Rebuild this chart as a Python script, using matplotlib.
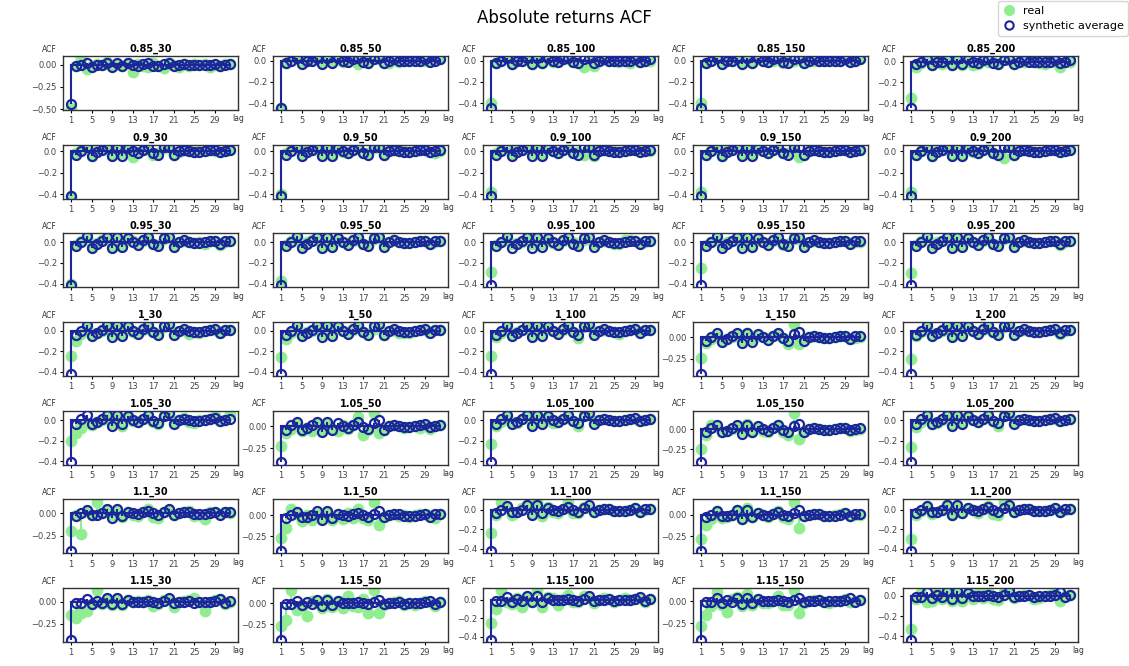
import matplotlib
matplotlib.use("Agg")
import matplotlib.pyplot as plt
from matplotlib.lines import Line2D

# lag axis and grid labels
lags = list(range(1, 33))
xticks = list(range(1, 33, 4))
row_keys = ["0.85", "0.9", "0.95", "1", "1.05", "1.1", "1.15"]
col_keys = ["30", "50", "100", "150", "200"]

# synthetic average ACF, one curve per row
syn_085 = [-0.44, -0.02, 0.00, 0.02, -0.03, 0.00, 0.00, 0.02, -0.03, 0.02, -0.02, 0.02, 0.00, -0.01, 0.01, 0.02, -0.01, -0.02, 0.01, 0.02, -0.02, 0.00, 0.01, 0.00, 0.00, 0.00, 0.00, 0.00, 0.01, -0.01, 0.00, 0.01]
syn_09 = [-0.42, -0.03, 0.00, 0.04, -0.04, -0.01, 0.01, 0.04, -0.04, 0.04, -0.04, 0.03, 0.00, -0.02, 0.01, 0.04, -0.02, -0.03, 0.04, 0.04, -0.03, 0.00, 0.01, 0.00, -0.01, -0.01, 0.00, 0.01, 0.01, -0.01, 0.00, 0.01]
syn_095 = [-0.41, -0.04, 0.00, 0.06, -0.06, -0.02, 0.01, 0.05, -0.06, 0.05, -0.05, 0.04, 0.00, -0.03, 0.02, 0.05, -0.02, -0.04, 0.04, 0.05, -0.05, 0.00, 0.02, 0.00, -0.01, -0.01, 0.00, 0.01, 0.01, -0.02, 0.01, 0.01]
syn_1 = [-0.42, -0.04, 0.00, 0.05, -0.05, -0.02, 0.01, 0.05, -0.06, 0.05, -0.05, 0.04, 0.00, -0.03, 0.02, 0.05, -0.01, -0.04, 0.04, 0.06, -0.04, 0.00, 0.02, 0.00, -0.01, -0.01, 0.00, 0.01, 0.02, -0.02, 0.01, 0.01]
syn_105 = [-0.41, -0.04, 0.01, 0.05, -0.04, -0.02, 0.01, 0.05, -0.06, 0.05, -0.04, 0.04, 0.00, -0.02, 0.01, 0.05, -0.01, -0.03, 0.04, 0.07, -0.04, 0.00, 0.01, 0.00, -0.01, -0.01, 0.00, 0.01, 0.02, -0.01, 0.00, 0.01]
syn_11 = [-0.42, -0.03, 0.00, 0.04, -0.02, -0.02, 0.00, 0.05, -0.05, 0.05, -0.03, 0.02, 0.00, -0.01, 0.01, 0.03, 0.00, -0.02, 0.02, 0.05, -0.02, 0.00, 0.01, 0.01, -0.01, -0.01, -0.01, 0.00, 0.02, -0.02, 0.01, 0.01]
syn_115 = [-0.43, -0.01, -0.01, 0.03, -0.02, 0.01, -0.01, 0.04, -0.03, 0.04, -0.02, 0.02, 0.00, 0.00, 0.00, 0.01, 0.00, -0.01, 0.01, 0.04, -0.01, 0.00, 0.00, 0.01, -0.01, 0.00, 0.00, 0.00, 0.01, 0.03, -0.01, 0.01]

# real ACF, one curve per panel
real_085_30 = [-0.48, -0.02, 0.07, -0.05, -0.02, 0.01, 0.00, 0.03, -0.02, 0.01, -0.01, 0.02, -0.08, 0.01, -0.01, -0.03, 0.02, -0.02, -0.04, 0.02, 0.00, -0.03, 0.01, -0.01, 0.01, 0.00, 0.01, -0.03, 0.00, -0.01, 0.01, 0.01]
real_085_50 = [-0.44, -0.02, 0.02, 0.01, -0.02, 0.00, 0.01, 0.02, -0.02, 0.01, -0.01, 0.01, -0.01, 0.00, 0.01, -0.03, 0.01, -0.02, 0.02, 0.01, -0.02, -0.02, 0.01, -0.01, 0.00, 0.00, 0.01, 0.00, 0.00, 0.00, 0.01, 0.01]
real_085_100 = [-0.40, -0.02, 0.01, 0.02, -0.03, 0.00, 0.00, 0.01, -0.03, 0.01, -0.02, 0.02, -0.01, -0.01, 0.01, 0.01, -0.01, -0.02, -0.06, -0.01, -0.05, 0.00, 0.01, 0.00, 0.00, -0.01, 0.00, -0.02, 0.01, -0.01, 0.00, 0.00]
real_085_150 = [-0.40, -0.02, 0.01, 0.01, -0.02, 0.01, 0.00, 0.02, -0.02, 0.01, -0.02, 0.01, 0.00, -0.01, 0.00, 0.01, -0.02, -0.01, 0.00, 0.01, -0.02, 0.00, 0.00, 0.00, 0.00, 0.00, 0.00, 0.00, 0.01, 0.00, 0.00, 0.01]
real_085_200 = [-0.35, -0.05, -0.01, 0.02, -0.03, 0.03, -0.02, 0.01, -0.03, 0.00, -0.03, 0.01, -0.03, -0.02, 0.01, 0.00, 0.00, -0.02, 0.02, 0.01, -0.02, 0.00, 0.00, 0.01, 0.00, -0.01, -0.02, 0.01, 0.00, -0.05, 0.00, 0.00]

real_09_30 = [-0.42, -0.02, 0.01, 0.03, -0.04, 0.00, 0.02, 0.03, -0.03, 0.02, -0.02, 0.02, -0.05, -0.01, 0.01, 0.02, -0.03, -0.02, 0.03, 0.03, -0.03, -0.01, 0.01, 0.00, -0.01, 0.00, 0.00, 0.01, 0.00, -0.01, 0.00, 0.01]
real_09_50 = [-0.40, -0.02, 0.01, 0.03, -0.03, 0.01, 0.01, 0.03, -0.03, 0.02, -0.03, 0.02, -0.01, -0.02, 0.01, 0.03, -0.02, -0.02, 0.03, 0.03, -0.03, 0.00, 0.01, 0.00, 0.00, -0.01, 0.00, 0.01, 0.01, -0.01, -0.02, 0.00]
real_09_100 = [-0.38, -0.02, 0.01, 0.03, -0.03, 0.01, 0.01, 0.03, -0.02, 0.03, -0.03, 0.02, 0.00, -0.02, 0.01, 0.02, -0.02, -0.01, -0.03, 0.04, -0.04, 0.01, 0.01, 0.00, 0.00, -0.01, 0.00, 0.01, 0.01, 0.00, 0.00, 0.00]
real_09_150 = [-0.38, -0.03, 0.01, 0.02, -0.04, 0.00, 0.01, 0.03, -0.03, 0.03, -0.03, 0.02, 0.00, -0.02, 0.01, 0.03, -0.02, -0.02, 0.02, -0.05, -0.03, 0.00, 0.01, 0.00, -0.01, -0.01, 0.00, 0.01, 0.01, -0.01, 0.00, 0.01]
real_09_200 = [-0.38, -0.03, 0.00, 0.03, -0.04, 0.00, 0.01, 0.03, -0.03, 0.03, -0.03, 0.02, -0.01, -0.02, 0.01, 0.03, -0.02, -0.03, -0.06, 0.04, -0.03, 0.00, 0.01, 0.00, -0.01, -0.01, 0.00, 0.01, 0.01, -0.01, 0.00, 0.01]

real_095_30 = [-0.40, -0.03, 0.01, 0.04, -0.04, -0.01, 0.02, 0.04, -0.05, 0.04, -0.04, 0.03, 0.01, -0.02, 0.01, 0.04, -0.02, -0.03, 0.03, 0.04, -0.04, 0.00, 0.01, 0.00, -0.01, 0.00, -0.02, 0.01, 0.01, -0.03, 0.00, 0.01]
real_095_50 = [-0.37, -0.03, 0.01, 0.04, -0.04, 0.00, 0.02, 0.04, -0.04, 0.04, -0.04, 0.03, 0.00, -0.02, 0.01, 0.04, -0.02, -0.03, 0.03, 0.04, -0.03, 0.00, 0.02, 0.00, -0.01, -0.01, 0.00, 0.01, 0.01, -0.02, 0.00, 0.01]
real_095_100 = [-0.29, -0.03, 0.00, 0.03, -0.02, -0.01, 0.00, 0.03, -0.02, 0.03, -0.02, 0.02, -0.01, -0.02, 0.01, 0.03, 0.00, -0.02, 0.02, 0.03, -0.02, 0.00, 0.01, 0.00, -0.02, -0.02, 0.02, 0.02, 0.01, -0.01, 0.00, 0.01]
real_095_150 = [-0.25, -0.03, 0.00, 0.03, -0.03, 0.00, 0.01, 0.03, -0.03, 0.03, -0.03, 0.02, 0.00, -0.02, 0.01, 0.03, -0.03, -0.02, 0.03, 0.03, -0.04, 0.00, 0.01, 0.00, -0.01, -0.01, 0.00, 0.01, 0.01, -0.01, 0.00, 0.00]
real_095_200 = [-0.30, -0.03, 0.01, 0.04, -0.03, 0.00, 0.01, 0.04, -0.04, 0.04, -0.04, 0.03, 0.00, -0.02, 0.01, 0.04, -0.02, -0.03, 0.03, 0.04, -0.04, 0.00, 0.01, 0.00, -0.01, -0.01, 0.00, 0.01, 0.01, -0.03, 0.00, 0.01]

real_1_30 = [-0.25, -0.10, -0.03, 0.03, -0.04, -0.02, 0.00, 0.03, -0.03, 0.05, -0.03, 0.03, -0.01, -0.02, 0.01, 0.03, -0.01, -0.03, 0.03, 0.05, -0.03, 0.00, 0.01, -0.03, -0.01, -0.02, 0.00, 0.01, 0.01, -0.02, 0.01, 0.01]
real_1_50 = [-0.26, -0.08, -0.02, 0.03, -0.04, -0.01, 0.00, 0.03, -0.03, 0.04, -0.03, 0.03, 0.00, -0.02, 0.01, 0.03, -0.01, -0.03, 0.02, 0.04, -0.04, 0.00, 0.01, -0.02, -0.02, -0.02, 0.00, 0.01, 0.01, -0.01, 0.01, 0.01]
real_1_100 = [-0.25, -0.06, -0.02, 0.03, -0.03, -0.01, 0.01, 0.03, -0.04, 0.04, -0.03, 0.03, 0.00, -0.02, 0.01, 0.04, -0.01, -0.07, 0.03, 0.04, -0.03, 0.00, 0.01, 0.00, -0.01, -0.03, 0.00, 0.01, 0.02, -0.01, 0.01, 0.01]
real_1_150 = [-0.24, -0.06, -0.02, 0.02, -0.04, -0.02, 0.00, 0.03, -0.03, 0.05, -0.02, 0.02, 0.00, -0.02, 0.01, 0.03, -0.01, -0.08, 0.15, -0.08, -0.02, 0.00, 0.01, 0.00, -0.01, -0.01, 0.00, 0.01, 0.01, -0.02, -0.01, 0.00]
real_1_200 = [-0.28, -0.05, -0.01, 0.03, -0.04, -0.02, 0.00, 0.04, -0.04, 0.04, -0.03, 0.03, 0.00, -0.02, 0.01, 0.04, -0.01, -0.03, 0.03, 0.05, -0.03, 0.00, 0.01, 0.00, -0.01, -0.01, 0.00, 0.01, 0.01, -0.03, 0.00, 0.01]

real_105_30 = [-0.20, -0.12, -0.08, -0.03, -0.05, -0.02, 0.00, 0.03, -0.03, 0.04, -0.06, 0.03, -0.01, -0.02, 0.01, 0.03, -0.02, -0.04, 0.04, 0.06, -0.03, 0.00, 0.02, -0.02, -0.03, 0.00, 0.00, 0.01, 0.04, -0.01, 0.00, 0.06]
real_105_50 = [-0.22, -0.08, -0.03, 0.03, -0.05, -0.02, -0.05, 0.03, -0.04, 0.04, -0.03, -0.05, 0.01, -0.03, 0.01, 0.10, -0.10, -0.04, 0.15, -0.08, -0.04, 0.00, 0.01, 0.00, -0.02, -0.01, 0.00, -0.02, 0.01, -0.03, 0.00, 0.01]
real_105_100 = [-0.23, -0.06, -0.02, 0.03, -0.02, -0.03, 0.01, 0.03, -0.04, 0.04, -0.03, 0.03, -0.03, -0.02, 0.01, 0.03, -0.01, -0.06, 0.04, 0.05, -0.03, 0.00, 0.01, 0.00, -0.01, -0.01, 0.00, 0.01, 0.01, -0.01, 0.00, 0.01]
real_105_150 = [-0.25, -0.07, 0.05, 0.03, -0.04, -0.02, 0.00, 0.03, -0.02, 0.06, -0.03, 0.02, -0.02, -0.04, 0.01, 0.05, -0.03, -0.07, 0.20, -0.12, -0.03, 0.00, 0.01, 0.00, -0.01, -0.01, 0.00, 0.01, 0.01, -0.02, -0.01, 0.00]
real_105_200 = [-0.26, -0.07, -0.02, 0.03, -0.04, -0.03, 0.00, 0.04, -0.04, 0.04, -0.03, 0.03, 0.00, -0.02, 0.01, 0.04, -0.01, -0.06, 0.04, 0.06, -0.03, 0.00, 0.01, 0.00, -0.01, -0.01, 0.00, 0.01, 0.01, -0.01, 0.00, 0.01]

real_11_30 = [-0.20, -0.02, -0.23, 0.01, -0.02, 0.13, 0.00, 0.03, -0.02, 0.03, -0.04, 0.01, -0.02, -0.03, 0.01, 0.05, -0.04, -0.05, 0.02, 0.03, -0.02, 0.00, 0.02, 0.03, -0.03, -0.02, -0.06, 0.01, 0.02, -0.01, 0.01, 0.00]
real_11_50 = [-0.27, -0.15, 0.07, 0.02, -0.07, 0.00, -0.05, 0.02, -0.03, 0.04, -0.06, 0.02, -0.04, 0.03, -0.03, 0.08, -0.03, -0.05, 0.16, -0.12, -0.02, 0.00, 0.02, -0.01, 0.00, -0.02, 0.00, 0.01, 0.01, 0.00, -0.03, 0.01]
real_11_100 = [-0.24, -0.05, 0.08, 0.03, -0.05, -0.02, 0.02, 0.05, -0.03, 0.08, -0.06, 0.03, -0.02, -0.03, 0.01, 0.08, -0.03, -0.03, 0.03, 0.02, -0.02, 0.00, 0.01, 0.01, -0.01, -0.01, -0.01, 0.00, 0.02, -0.02, 0.00, 0.01]
real_11_150 = [-0.28, -0.12, -0.05, 0.04, -0.04, -0.03, 0.00, 0.05, -0.05, 0.08, -0.03, 0.02, 0.00, -0.03, 0.01, 0.04, -0.03, -0.05, 0.15, -0.15, -0.02, 0.00, 0.01, 0.01, -0.01, -0.01, 0.00, 0.01, 0.02, -0.02, 0.00, 0.00]
real_11_200 = [-0.30, -0.05, -0.01, 0.03, -0.04, -0.02, 0.00, 0.05, -0.05, 0.04, -0.03, 0.02, 0.00, -0.03, 0.01, 0.04, -0.04, -0.05, 0.08, 0.04, -0.02, 0.00, 0.01, 0.01, -0.01, -0.01, -0.01, 0.00, 0.02, -0.02, 0.00, 0.01]

real_115_30 = [-0.15, -0.18, -0.13, -0.10, -0.02, 0.13, -0.02, 0.03, -0.04, 0.03, -0.04, 0.02, 0.00, 0.01, 0.00, 0.02, -0.05, -0.02, 0.02, 0.03, -0.06, 0.00, 0.01, 0.02, 0.04, 0.00, -0.10, 0.00, 0.02, 0.03, -0.02, 0.00]
real_115_50 = [-0.27, -0.20, 0.15, -0.08, -0.03, -0.15, 0.03, 0.00, -0.06, 0.05, -0.05, 0.02, -0.06, 0.08, -0.03, -0.04, 0.05, -0.12, 0.15, -0.12, -0.02, 0.00, 0.01, 0.02, -0.02, 0.00, -0.02, 0.00, 0.02, 0.01, -0.03, 0.01]
real_115_100 = [-0.25, -0.10, 0.10, -0.03, -0.05, 0.02, -0.08, 0.03, -0.03, 0.10, -0.08, 0.03, 0.02, -0.06, 0.01, 0.05, -0.03, -0.03, 0.04, 0.02, -0.04, 0.00, 0.02, 0.01, -0.03, 0.00, 0.02, 0.00, 0.01, 0.02, -0.02, 0.01]
real_115_150 = [-0.28, -0.15, -0.05, 0.10, -0.04, -0.12, 0.02, 0.05, -0.05, 0.08, -0.04, 0.02, -0.02, -0.02, 0.00, 0.06, -0.04, -0.04, 0.12, -0.13, -0.02, 0.00, 0.01, 0.01, -0.01, -0.02, 0.00, 0.00, 0.02, -0.01, 0.00, 0.01]
real_115_200 = [-0.33, -0.03, 0.02, -0.06, -0.05, 0.02, -0.03, 0.03, -0.05, 0.04, -0.05, 0.02, -0.03, 0.02, -0.02, 0.04, -0.03, -0.04, 0.03, 0.05, -0.02, 0.00, 0.01, 0.01, -0.03, -0.02, 0.00, 0.01, 0.02, -0.05, 0.00, 0.01]

synthetic = [syn_085, syn_09, syn_095, syn_1, syn_105, syn_11, syn_115]
real = [
    [real_085_30, real_085_50, real_085_100, real_085_150, real_085_200],
    [real_09_30, real_09_50, real_09_100, real_09_150, real_09_200],
    [real_095_30, real_095_50, real_095_100, real_095_150, real_095_200],
    [real_1_30, real_1_50, real_1_100, real_1_150, real_1_200],
    [real_105_30, real_105_50, real_105_100, real_105_150, real_105_200],
    [real_11_30, real_11_50, real_11_100, real_11_150, real_11_200],
    [real_115_30, real_115_50, real_115_100, real_115_150, real_115_200],
]

GREEN = "#90ee90"
BLUE = "#1c259c"

fig, axes = plt.subplots(7, 5, figsize=(11.29, 6.66), dpi=100)
fig.subplots_adjust(left=0.056, right=0.955, top=0.916, bottom=0.036,
                    wspace=0.2, hspace=0.64)

for i, rk in enumerate(row_keys):
    for j, ck in enumerate(col_keys):
        ax = axes[i, j]
        m, s, b = ax.stem(lags, real[i][j])
        plt.setp(m, color=GREEN, markersize=7.5, zorder=2)
        plt.setp(s, color=GREEN, linewidth=1.5, zorder=1)
        plt.setp(b, color=GREEN, linewidth=1.5, zorder=1)

        m, s, b = ax.stem(lags, synthetic[i])
        plt.setp(m, color=BLUE, markerfacecolor="none", markeredgewidth=1.6,
                 markersize=6.5, zorder=4)
        plt.setp(s, color=BLUE, linewidth=1.5, zorder=3)
        plt.setp(b, color=BLUE, linewidth=1.5, zorder=3)

        ax.set_title(rk + "_" + ck, fontsize=7, fontweight="bold", pad=3)
        ax.set_xticks(xticks)
        ax.tick_params(labelsize=6, labelcolor="#444444", length=2.5,
                       width=0.8, pad=2)
        for sp in ax.spines.values():
            sp.set_color("#333333")
            sp.set_linewidth(1.0)
        ax.text(-0.08, 1.04, "ACF", transform=ax.transAxes, fontsize=5.5,
                color="#333333", ha="center", va="bottom")
        ax.text(1.0, -0.08, "lag", transform=ax.transAxes, fontsize=5.5,
                color="#333333", ha="center", va="top")

handles = [
    Line2D([], [], linestyle="none", marker="o", color=GREEN, markersize=7),
    Line2D([], [], linestyle="none", marker="o", markerfacecolor="none",
           markeredgecolor=BLUE, markeredgewidth=1.5, markersize=6),
]
fig.legend(handles, ["real", "synthetic average"], loc="upper right",
           bbox_to_anchor=(1.0, 1.0), fontsize=8, borderaxespad=0.1,
           handlelength=1.2, handletextpad=0.6)
fig.suptitle("Absolute returns ACF", fontsize=12, y=0.987)

fig.savefig("out.png", dpi=100)
